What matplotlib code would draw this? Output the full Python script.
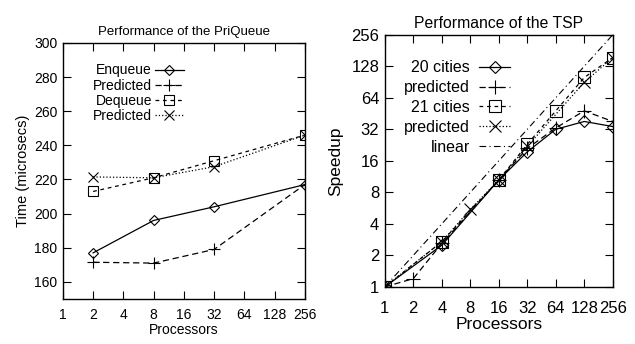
import numpy as np
import matplotlib.pyplot as plt

plt.rcParams['font.family'] = ['Liberation Sans', 'DejaVu Sans']

# PriQueue data
pq_procs = [2, 8, 32, 256]
enqueue = [177, 196, 204, 217]
enqueue_pred = [171.5, 171, 179, 217]
dequeue = [213, 221, 231, 246]
dequeue_pred = [221.5, 221, 227.5, 246]
pq_ticks = [1, 2, 4, 8, 16, 32, 64, 128, 256]
pq_yticks = [160, 180, 200, 220, 240, 260, 280, 300]

# TSP data
c20_procs = [1, 4, 16, 32, 64, 128, 256]
c20 = [1, 2.5, 10.5, 19.5, 32, 38, 34]
c20p_procs = [1, 2, 4, 16, 32, 64, 128, 256]
c20_pred = [1, 1.2, 2.6, 10.5, 21, 33, 48, 38]
c21_procs = [1, 4, 16, 32, 64, 128, 256]
c21 = [1, 2.7, 10.5, 23, 48, 100, 155]
c21p_procs = [1, 4, 8, 16, 32, 128, 256]
c21_pred = [1, 2.7, 5.5, 10.5, 22, 90, 155]
lin = [1, 2, 4, 8, 16, 32, 64, 128, 256]

fig = plt.figure(figsize=(6.35, 3.44), dpi=100)

def style(ax, fs):
    ax.tick_params(direction='in', top=True, right=True, length=6, width=0.8,
                   labelsize=fs, pad=4)
    ax.tick_params(which='minor', length=0)
    for s in ax.spines.values():
        s.set_linewidth(1.0)

# left panel
ax1 = fig.add_axes([0.099, 0.131, 0.381, 0.744])
kw = dict(color='black', lw=0.9, mfc='none', mew=0.8)
ax1.plot(pq_procs, enqueue, '-', marker='D', ms=5, label='Enqueue', **kw)
ax1.plot(pq_procs, enqueue_pred, '--', marker='+', ms=8, dashes=(5, 3), label='Predicted', **kw)
ax1.plot(pq_procs, dequeue, '--', marker='s', ms=7, dashes=(3, 3), label='Dequeue', **kw)
ax1.plot(pq_procs, dequeue_pred, ':', marker='x', ms=7, label='Predicted', **kw)
ax1.set_xscale('log', base=2)
ax1.set_xlim(1, 256)
ax1.set_ylim(150, 300)
ax1.set_xticks(pq_ticks)
ax1.set_xticklabels([str(t) for t in pq_ticks])
ax1.set_yticks(pq_yticks)
style(ax1, 10)
ax1.tick_params(axis='x', pad=6.5)
ax1.set_title('Performance of the PriQueue', fontsize=9.5, pad=6)
ax1.set_xlabel('Processors', fontsize=10, labelpad=1)
ax1.set_ylabel('Time (microsecs)', fontsize=10.5, labelpad=3)
ax1.legend(loc='upper right', bbox_to_anchor=(0.50, 0.92), frameon=False,
           markerfirst=False, fontsize=10, handlelength=2.1, handletextpad=0.2,
           labelspacing=0.08, borderpad=0, borderaxespad=0)

# right panel
ax2 = fig.add_axes([0.606, 0.166, 0.359, 0.733])
ax2.plot(c20_procs, c20, '-', marker='D', ms=6, label='20 cities', **kw)
ax2.plot(c20p_procs, c20_pred, '--', marker='+', ms=10, dashes=(5, 3), label='predicted', **kw)
ax2.plot(c21_procs, c21, '--', marker='s', ms=9, dashes=(3, 3), label='21 cities', **kw)
ax2.plot(c21p_procs, c21_pred, ':', marker='x', ms=9, label='predicted', **kw)
ax2.plot(lin, lin, '-.', color='black', lw=0.8, dashes=(6, 3, 1, 3), label='linear')
ax2.set_xscale('log', base=2)
ax2.set_yscale('log', base=2)
ax2.set_xlim(1, 256)
ax2.set_ylim(1, 256)
ax2.set_xticks(lin)
ax2.set_xticklabels([str(t) for t in lin])
ax2.set_yticks(lin)
ax2.set_yticklabels([str(t) for t in lin])
style(ax2, 12)
ax2.tick_params(axis='x', pad=10)
ax2.set_title('Performance of the TSP', fontsize=11.3, pad=5)
ax2.set_xlabel('Processors', fontsize=12.5, labelpad=1)
ax2.set_ylabel('Speedup', fontsize=12.5, labelpad=6)
ax2.legend(loc='upper right', bbox_to_anchor=(0.548, 0.898), frameon=False,
           markerfirst=False, fontsize=11.5, handlelength=1.9, handletextpad=0.6,
           labelspacing=0.3, borderpad=0, borderaxespad=0)

fig.savefig('out.png', dpi=100)
